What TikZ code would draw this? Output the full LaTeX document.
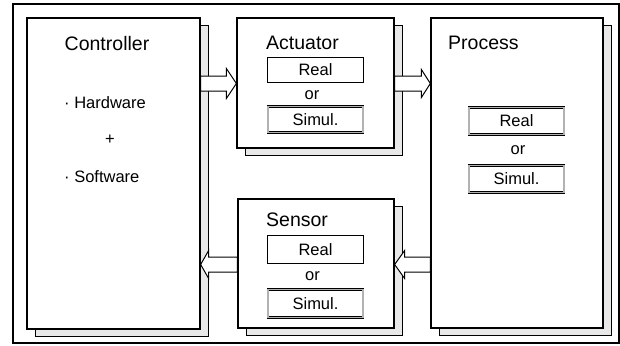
\documentclass[tikz,border=0pt]{standalone}
\usepackage{fontspec}
\setmainfont{Liberation Sans}
\usetikzlibrary{calc,shadows}

\tikzset{
  frame/.style={draw=black,line width=1.5pt},
  unit/.style={draw=black,fill=white,line width=1.3pt,inner sep=0pt,
    drop shadow={shadow xshift=8pt,shadow yshift=-7.5pt,fill=gray!18,
      draw=black,line width=1pt,opacity=1}},
  title/.style={inner sep=0pt,anchor=west,font=\fontsize{19.5}{22}\selectfont},
  body/.style={inner sep=0pt,font=\fontsize{16.5}{19}\selectfont},
  realbox/.style={draw=black,line width=0.9pt,fill=white,inner sep=0pt,
    font=\fontsize{16.5}{19}\selectfont,minimum width=96pt},
  simbox/.style={draw=black,line width=0.7pt,double=gray!60,double distance=1.3pt,
    fill=white,inner sep=0pt,font=\fontsize{16.5}{19}\selectfont,minimum width=95pt},
  % hollow block arrow between two points on a horizontal line
  blockarrow/.style 2 args={draw=black,fill=white,line width=1pt,line join=miter,
    to path={let \p1=(\tikztostart), \p2=(\tikztotarget),
      \n1={sign(\x2-\x1)} in
      (\x1,\y1+7.5pt) -- (\x2-\n1*#1,\y1+7.5pt) -- (\x2-\n1*#1,\y1+#2)
      -- (\x2,\y2) -- (\x2-\n1*#1,\y1-#2) -- (\x2-\n1*#1,\y1-7.5pt)
      -- (\x1,\y1-7.5pt) -- cycle}},
}

\begin{document}
\begin{tikzpicture}[x=1pt,y=-1pt]
\useasboundingbox (0,0) rectangle (620,345);

% enclosing frame
\draw[frame] (13,4) rectangle (619,343);

% the four units
\node[unit,minimum width=173pt,minimum height=311pt] (ctrl) at (113.5,173.5) {};
\node[unit,minimum width=157pt,minimum height=130pt] (act) at (315.5,83) {};
\node[unit,minimum width=156pt,minimum height=129pt] (sens) at (316,263.5) {};
\node[unit,minimum width=172pt,minimum height=310pt] (proc) at (517,173) {};

% controller
\node[body,anchor=center,font=\fontsize{19.5}{22}\selectfont] (ctrlT) at (107,44) {Controller};
\node[body,anchor=west] (hw) at (64,103) {· Hardware};
\node[body] (plus) at (110,140) {+};
\node[body,anchor=west] (sw) at (64,177) {· Software};

% actuator
\node[title] (actT) at (266,43) {Actuator};
\node[realbox,minimum height=25pt] (actR) at (315.5,69.5) {Real};
\node[body] (actOr) at (312,95) {or};
\node[simbox,minimum height=26pt] (actS) at (315.5,119.5) {Simul.};

% sensor
\node[title] (sensT) at (266,220) {Sensor};
\node[realbox,minimum height=28pt] (sensR) at (315.5,249.5) {Real};
\node[body] (sensOr) at (312.5,276) {or};
\node[simbox,minimum height=28pt] (sensS) at (315.5,303.5) {Simul.};

% process
\node[title] (procT) at (448,43) {Process};
\node[simbox,minimum height=27pt] (procR) at (516.5,121) {Real};
\node[body] (procOr) at (518,150) {or};
\node[simbox,minimum height=27pt] (procS) at (516.5,179) {Simul.};

% signal paths
\coordinate (upper) at (0,83.5);
\coordinate (lower) at (0,264.5);
\draw[blockarrow={10pt}{15pt}] (ctrl.east |- upper) to (act.west |- upper);
\draw[blockarrow={9pt}{14pt}] (act.east |- upper) to (proc.west |- upper);
\draw[blockarrow={10pt}{14pt}] (proc.west |- lower) to (sens.east |- lower);
\draw[blockarrow={8pt}{14pt}] (sens.west |- lower) to (ctrl.east |- lower);
\end{tikzpicture}
\end{document}
